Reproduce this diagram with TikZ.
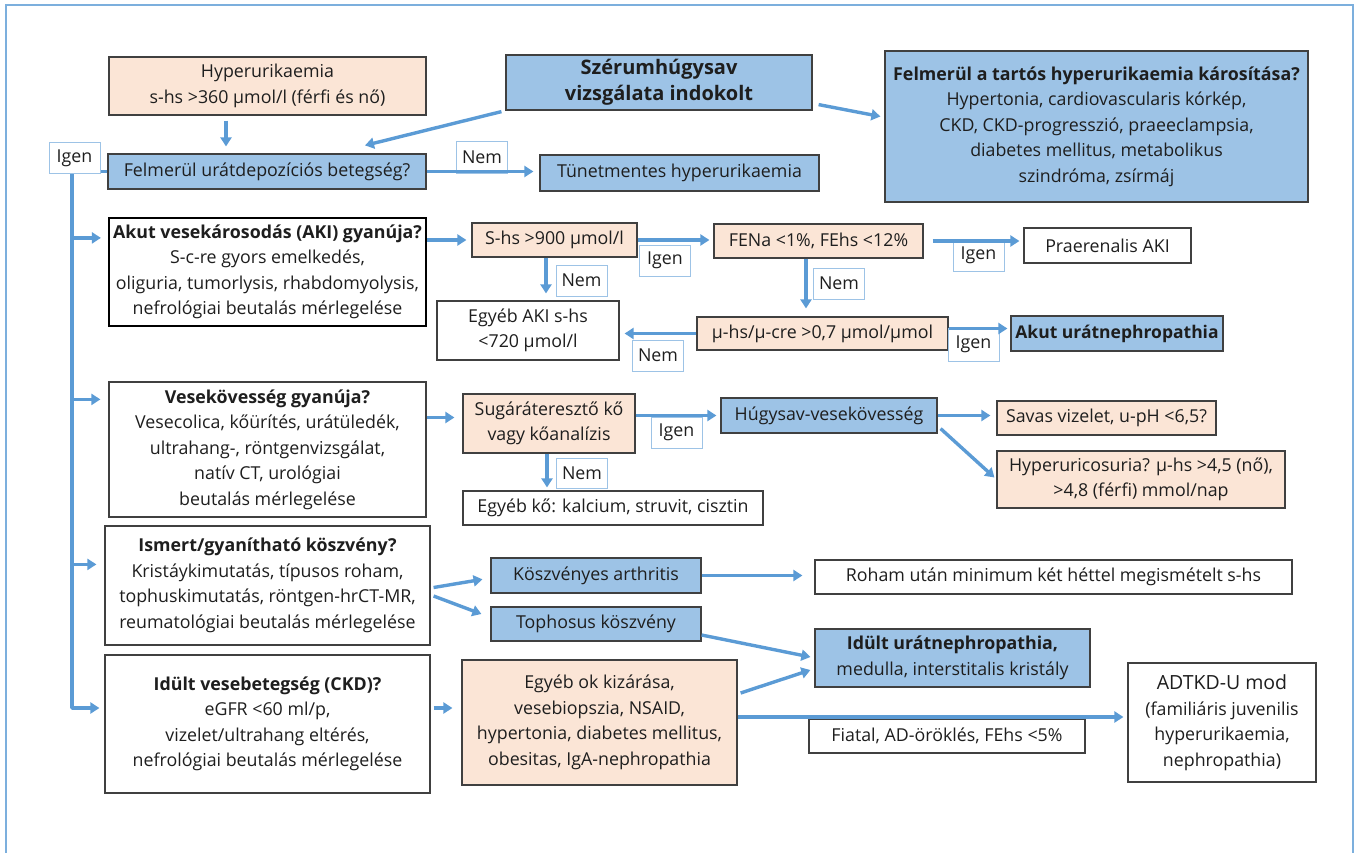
\documentclass[tikz,border=0pt]{standalone}
\usepackage{fontspec}
\setmainfont{Open Sans}
\usetikzlibrary{arrows.meta,calc}
\definecolor{bfill}{RGB}{157,195,230}
\definecolor{pfill}{RGB}{251,229,214}
\definecolor{arrc}{RGB}{91,155,213}
\definecolor{lblc}{RGB}{157,195,230}
\definecolor{bdr}{RGB}{64,64,64}
\definecolor{txt}{RGB}{30,30,30}
\begin{document}
\begin{tikzpicture}[x=1pt,y=-1pt,
  font=\fontsize{17.8}{25.5}\selectfont,
  box/.style={draw=bdr, line width=1.2pt, inner sep=0pt, align=center, text=txt},
  bluebox/.style={box, fill=bfill},
  peachbox/.style={box, fill=pfill},
  whitebox/.style={box, fill=white},
  lbl/.style={draw=lblc, line width=1pt, fill=white, inner sep=0pt, minimum width=51pt, minimum height=31pt, text=txt},
  arr/.style={draw=arrc, line width=3.4pt, line join=round, -{Triangle[length=9pt,width=11pt]}},
  ln/.style={draw=arrc, line width=3pt}]
\useasboundingbox (0,0) rectangle (1358,852);
\draw[arrc!80, line width=1.5pt] (6,5) rectangle (1353,870);

% top
\node[peachbox, minimum width=317pt, minimum height=58pt] (hyper) at (267.5,86) {Hyperurikaemia\\s-hs >360 µmol/l (férfi és nő)};
\node[bluebox, font=\fontsize{20}{26}\selectfont\bfseries, minimum width=306pt, minimum height=55pt] (szerum) at (659,82.5) {Szérumhúgysav\\vizsgálata indokolt};
\node[bluebox, minimum width=423pt, minimum height=151pt] (tartos) at (1096.5,126.5) {\textbf{Felmerül a tartós hyperurikaemia károsítása?}\\Hypertonia, cardiovascularis kórkép,\\CKD, CKD-progresszió, praeeclampsia,\\diabetes mellitus, metabolikus\\szindróma, zsírmáj};
\node[bluebox, minimum width=318pt, minimum height=35pt] (urat) at (267,171.5) {Felmerül urátdepozíciós betegség?};
\node[lbl] (igen0) at (74.5,158) {Igen};
\node[lbl, minimum height=32pt] (nem0) at (482,157) {Nem};
\node[bluebox, minimum width=279pt, minimum height=36pt] (tunet) at (679.5,173) {Tünetmentes hyperurikaemia};

% left column
\node[whitebox, draw=black, line width=2.2pt, minimum width=317pt, minimum height=108pt] (aki) at (267.5,272) {\textbf{Akut vesekárosodás (AKI) gyanúja?}\\S-c-re gyors emelkedés,\\oliguria, tumorlysis, rhabdomyolysis,\\nefrológiai beutalás mérlegelése};
\node[whitebox, minimum width=317pt, minimum height=135pt] (vese) at (267.5,449.5) {\textbf{Vesekövesség gyanúja?}\\Vesecolica, kőürítés, urátüledék,\\ultrahang-, röntgenvizsgálat,\\natív CT, urológiai\\beutalás mérlegelése};
\node[whitebox, minimum width=325pt, minimum height=119pt] (koszv) at (267.5,585.5) {\textbf{Ismert/gyanítható köszvény?}\\Kristáykimutatás, típusos roham,\\tophuskimutatás, röntgen-hrCT-MR,\\reumatológiai beutalás mérlegelése};
\node[whitebox, minimum width=325pt, minimum height=138pt] (ckd) at (267.5,724) {\textbf{Idült vesebetegség (CKD)?}\\eGFR <60 ml/p,\\vizelet/ultrahang eltérés,\\nefrológiai beutalás mérlegelése};

% AKI row
\node[peachbox, minimum width=165pt, minimum height=34pt] (shs) at (554.5,240) {S-hs >900 µmol/l};
\node[peachbox, minimum width=209pt, minimum height=34pt] (fena) at (818.5,241) {FENa <1\%, FEhs <12\%};
\node[lbl] (igen1) at (665,260.5) {Igen};
\node[lbl] (nem1) at (581.5,280.5) {Nem};
\node[whitebox, minimum width=182pt, minimum height=59pt] (egyebaki) at (528,330.5) {Egyéb AKI s-hs\\<720 µmol/l};
\node[lbl] (nem2) at (839,283.5) {Nem};
\node[peachbox, minimum width=251pt, minimum height=33pt] (mu) at (822.5,333.5) {µ-hs/µ-cre >0,7 µmol/µmol};
\node[lbl] (nem3) at (658,355.5) {Nem};
\node[whitebox, minimum width=167pt, minimum height=35pt] (prae) at (1107.5,245.5) {Praerenalis AKI};
\node[lbl] (igen2) at (978.5,255.5) {Igen};
\node[bluebox, font=\fontsize{17.5}{25}\selectfont\bfseries, minimum width=212pt, minimum height=35pt] (akut) at (1117,333.5) {Akut urátnephropathia};
\node[lbl, minimum height=33pt] (igen3) at (973.5,344.5) {Igen};

% stone row
\node[peachbox, minimum width=172pt, minimum height=59pt] (sugar) at (549,423.5) {Sugáráteresztő kő\\vagy kőanalízis};
\node[bluebox, minimum width=216pt, minimum height=35pt] (hugysav) at (829,415.5) {Húgysav-vesekövesség};
\node[lbl] (igen4) at (676.5,432.5) {Igen};
\node[lbl, minimum height=30pt] (nem4) at (582,473) {Nem};
\node[whitebox, minimum width=300pt, minimum height=34pt] (egyebko) at (613,508) {Egyéb kő: kalcium, struvit, cisztin};
\node[peachbox, minimum width=219pt, minimum height=34pt] (savas) at (1106.5,418) {Savas vizelet, u-pH <6,5?};
\node[peachbox, minimum width=288pt, minimum height=57pt] (hyperuric) at (1141,479.5) {Hyperuricosuria? µ-hs >4,5 (nő),\\>4,8 (férfi) mmol/nap};

% gout row
\node[bluebox, minimum width=210pt, minimum height=35pt] (arthritis) at (596,575.5) {Köszvényes arthritis};
\node[bluebox, minimum width=210pt, minimum height=34pt] (tophus) at (596,624) {Tophosus köszvény};
\node[whitebox, minimum width=477pt, minimum height=34pt] (roham) at (1053.5,577) {Roham után minimum két héttel megismételt s-hs};
\node[bluebox, minimum width=275pt, minimum height=58pt] (idult) at (952.5,658) {\textbf{Idült urátnephropathia,}\\medulla, interstitalis kristály};

% CKD row
\node[peachbox, minimum width=275pt, minimum height=125pt] (egyebok) at (599.5,722.5) {Egyéb ok kizárása,\\vesebiopszia, NSAID,\\hypertonia, diabetes mellitus,\\obesitas, IgA-nephropathia};
\node[whitebox, minimum width=276pt, minimum height=34pt] (fiatal) at (947,736) {Fiatal, AD-öröklés, FEhs <5\%};
\node[whitebox, minimum width=188pt, minimum height=119pt] (adtkd) at (1222,722.5) {{\fontsize{19.5}{26}\selectfont ADTKD-U mod}\\(familiáris juvenilis\\hyperurikaemia,\\nephropathia)};

% connectors
\draw[arr] ([xshift=-41.5pt,yshift=-5pt]hyper.south) -- ([xshift=-41pt,yshift=7pt]urat.north);
\draw[arr] ([xshift=-4pt,yshift=-1pt]szerum.south west) -- ([xshift=98pt,yshift=8pt]urat.north);
\draw[arr] ([xshift=6pt,yshift=6pt]szerum.south east) -- ([xshift=-4pt,yshift=10pt]tartos.west);
\draw[arr, shorten >=6pt] (urat.east) -- (urat.east -| tunet.west);
\draw[ln] (urat.west) -- (urat.west -| igen0.east);

\coordinate (tk) at ([xshift=-2.5pt]igen0.south);
\coordinate (e1) at ([xshift=-7pt,yshift=-21pt]aki.north west);
\coordinate (e2) at ([xshift=-8pt,yshift=-18pt]vese.north west);
\coordinate (e3) at ([xshift=-8pt,yshift=-39pt]koszv.north west);
\draw[arr] (tk) |- ([xshift=-5pt,yshift=16pt]ckd.west);
\draw[arr] (tk |- e1) -- (e1);
\draw[arr] (tk |- e2) -- (e2);
\draw[arr] (tk |- e3) -- (e3);

\draw[arr, shorten >=5pt] (aki.east |- shs.west) -- (shs.west);
\draw[arr, shorten >=4pt] (shs.east) -- (shs.east -| fena.west);
\draw[arr, shorten >=7pt] ([xshift=-8.5pt]shs.south) -- ([xshift=18pt]egyebaki.north);
\draw[arr, shorten >=8pt] ([xshift=-12.5pt]fena.south) -- ([xshift=-16.5pt]mu.north);
\draw[arr, shorten >=5pt] (mu.west) -- (mu.west -| egyebaki.east);
\draw[arr, shorten <=9pt, shorten >=4pt] (fena.east) -- (fena.east -| prae.west);
\coordinate (m1) at ([yshift=5pt]mu.east);
\draw[arr, shorten >=3pt] (m1) -- (m1 -| akut.west);

\coordinate (v1) at ([yshift=6pt]sugar.west);
\draw[arr, shorten >=8pt] (vese.east |- v1) -- (v1);
\draw[arr, shorten >=4pt] (sugar.east |- hugysav.west) -- (hugysav.west);
\draw[arr, shorten >=3pt] ([xshift=-2pt]sugar.south) -- ([xshift=-66pt]egyebko.north);
\draw[arr, shorten >=6pt] (hugysav.east) -- (hugysav.east -| savas.west);
\draw[arr] ([xshift=3pt,yshift=5pt]hugysav.south east) -- ([xshift=-2pt,yshift=2pt]hyperuric.west);

\draw[arr, shorten <=3pt, shorten >=8pt] ([yshift=-2.5pt]koszv.east) -- ([yshift=-2.5pt]arthritis.west);
\draw[arr] ([xshift=3pt,yshift=-10.5pt]koszv.east) -- ([xshift=-9pt,yshift=10pt]tophus.west);
\draw[arr, shorten >=12pt] (arthritis.east) -- (arthritis.east -| roham.west);
\draw[arr] ([yshift=-11pt]tophus.east) -- ([xshift=-4pt,yshift=1pt]idult.west);

\coordinate (k1) at ([yshift=16pt]ckd.east);
\draw[arr, shorten <=3pt, shorten >=9pt] (k1) -- (k1 -| egyebok.west);
\draw[arr] ([xshift=3pt,yshift=29.5pt]egyebok.east) -- ([xshift=-4pt,yshift=-12pt]idult.west);
\coordinate (k2) at ([yshift=5.5pt]egyebok.east);
\draw[arr, shorten >=4pt] (k2) -- (k2 -| adtkd.west);
\end{tikzpicture}
\end{document}
